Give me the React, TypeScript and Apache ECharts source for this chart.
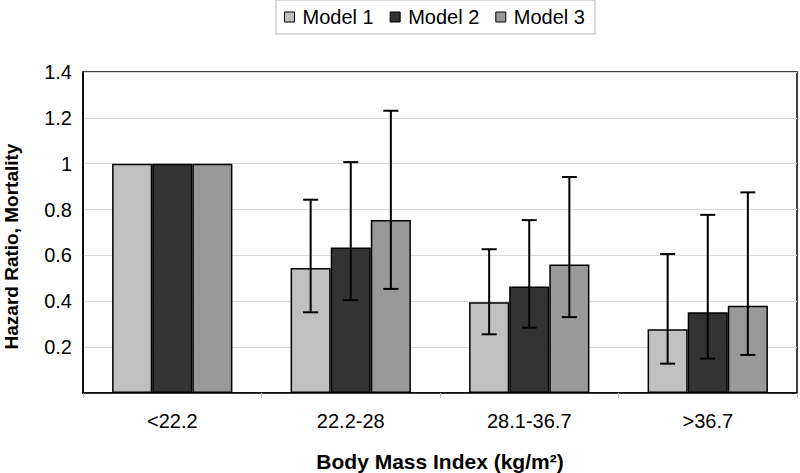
import React, { useEffect, useRef } from "react";
import * as echarts from "echarts";

const categories = ["<22.2", "22.2-28", "28.1-36.7", ">36.7"];
const seriesNames = ["Model 1", "Model 2", "Model 3"];
const seriesColors = ["#c0c0c0", "#333333", "#999999"];

const model1 = [1, 0.545, 0.396, 0.278];
const model1Low = [null, 0.352, 0.256, 0.128];
const model1High = [null, 0.843, 0.627, 0.606];

const model2 = [1, 0.635, 0.464, 0.352];
const model2Low = [null, 0.405, 0.285, 0.15];
const model2High = [null, 1.007, 0.754, 0.777];

const model3 = [1, 0.754, 0.56, 0.38];
const model3Low = [null, 0.454, 0.331, 0.166];
const model3High = [null, 1.231, 0.942, 0.875];

const yTicks = { min: 0, max: 1.4, interval: 0.2 };

const values = [model1, model2, model3];
const lows = [model1Low, model2Low, model3Low];
const highs = [model1High, model2High, model3High];

const CAT_GAP = 0.326;
const FONT = "Liberation Sans, Arial, sans-serif";

export default function App() {
  const ref = useRef<HTMLDivElement>(null);
  useEffect(() => {
    if (!ref.current) return;
    const chart = echarts.init(ref.current, null, { renderer: "svg" });

    const barSeries = values.map((v, i) => ({
      type: "bar",
      name: seriesNames[i],
      data: v,
      barGap: "0%",
      barCategoryGap: (CAT_GAP * 100).toFixed(1) + "%",
      itemStyle: { color: seriesColors[i], borderColor: "#000", borderWidth: 1.5 },
      z: 2,
    }));

    const errSeries = values.map((v, i) => ({
      type: "custom",
      name: seriesNames[i] + " err",
      data: categories
        .map((c, k) => [k, lows[i][k], highs[i][k]])
        .filter((d) => d[1] != null),
      encode: { x: 0, y: [1, 2] },
      z: 5,
      renderItem: (params: any, api: any) => {
        const k = api.value(0);
        const lo = api.value(1);
        const hi = api.value(2);
        const catW = api.size([1, 0])[0];
        const barW = (catW * (1 - CAT_GAP)) / 3;
        const pLo = api.coord([k, lo]);
        const pHi = api.coord([k, hi]);
        const x = pLo[0] + (i - 1) * barW;
        const cap = 7.5;
        const st = { stroke: "#000", lineWidth: 2, fill: "none" };
        return {
          type: "group",
          children: [
            { type: "line", shape: { x1: x, y1: pLo[1], x2: x, y2: pHi[1] }, style: st },
            { type: "line", shape: { x1: x - cap, y1: pHi[1], x2: x + cap, y2: pHi[1] }, style: st },
            { type: "line", shape: { x1: x - cap, y1: pLo[1], x2: x + cap, y2: pLo[1] }, style: st },
          ],
        };
      },
    }));

    chart.setOption({
      animation: false,
      backgroundColor: "#fff",
      textStyle: { fontFamily: FONT },
      legend: {
        data: seriesNames,
        left: 276,
        top: 0,
        itemWidth: 10,
        itemHeight: 10,
        itemGap: 16,
        padding: [7, 10, 7, 8],
        borderColor: "#d0d0d0",
        borderWidth: 1.5,
        icon: "rect",
        itemStyle: { borderColor: "#000", borderWidth: 1 },
        textStyle: { fontSize: 20, color: "#000", fontFamily: FONT, padding: [0, 0, 0, 3] },
      },
      grid: {
        left: 83,
        right: 3,
        top: 72,
        bottom: 80,
        containLabel: false,
        outerBoundsMode: "none",
        show: true,
        borderColor: "#000",
        borderWidth: 1.5,
        backgroundColor: "transparent",
      },
      xAxis: {
        type: "category",
        data: categories,
        axisLine: { show: true, lineStyle: { color: "#000", width: 1.5 } },
        axisTick: { show: true, alignWithLabel: false, length: 5, lineStyle: { color: "#bbb" } },
        axisLabel: { fontSize: 20, color: "#000", margin: 18, fontFamily: FONT },
        name: "Body Mass Index (kg/m²)",
        nameLocation: "middle",
        nameGap: 58,
        nameTextStyle: {
          fontSize: 21,
          fontWeight: "bold",
          color: "#000",
          fontFamily: FONT,
        },
      },
      yAxis: {
        type: "value",
        min: yTicks.min,
        max: yTicks.max,
        interval: yTicks.interval,
        axisLine: { show: true, lineStyle: { color: "#000", width: 1.5 } },
        axisTick: { show: false },
        splitLine: { show: true, lineStyle: { color: "#d9d9d9", width: 1 } },
        axisLabel: {
          fontSize: 20,
          color: "#000",
          margin: 11,
          fontFamily: FONT,
          formatter: (v: number) => (v === 0 ? "" : String(Math.round(v * 10) / 10)),
        },
        name: "Hazard Ratio, Mortality",
        nameLocation: "middle",
        nameGap: 62,
        nameTextStyle: {
          fontSize: 19,
          fontWeight: "bold",
          color: "#000",
          fontFamily: FONT,
          padding: [0, 28, 0, 0],
        },
      },
      series: [...barSeries, ...errSeries],
    });
    return () => chart.dispose();
  }, []);
  return <div ref={ref} style={{ width: 800, height: 473, position: "absolute", left: 0, top: 0 }} />;
}
